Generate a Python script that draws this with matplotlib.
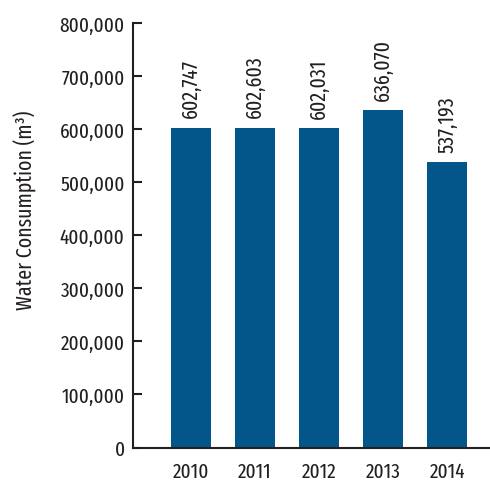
import matplotlib
matplotlib.use("Agg")
import matplotlib.pyplot as plt
from matplotlib.ticker import FuncFormatter

years = ["2010", "2011", "2012", "2013", "2014"]
consumption = [602747, 602603, 602031, 636070, 537193]
y_ticks = [0, 100000, 200000, 300000, 400000, 500000, 600000, 700000, 800000]

bar_color = "#02568a"
text_color = "#231f20"
plt.rcParams["font.family"] = ["Fira Sans Extra Condensed", "DejaVu Sans"]

fig = plt.figure(figsize=(4.9, 4.85), dpi=100)
ax = fig.add_axes([133 / 490, 1 - 448.5 / 485, 1 - 133 / 490, (448.5 - 24) / 485])

x = list(range(len(years)))
ax.bar(x, consumption, width=0.625, color=bar_color, zorder=2)

# value labels stand vertically just above each bar
for xi, v in zip(x, consumption):
    ax.annotate(f"{v:,}", (xi, v), xytext=(0, 7.5), textcoords="offset points",
                rotation=90, ha="center", va="bottom", fontsize=15.5, color=text_color)

ax.set_xlim(-0.906, 4.67)
ax.set_ylim(0, 800000)
ax.set_yticks(y_ticks)
ax.yaxis.set_major_formatter(FuncFormatter(lambda v, p: f"{int(v):,}"))
ax.set_xticks(x)
ax.set_xticklabels(years)

for s in ["top", "right"]:
    ax.spines[s].set_visible(False)
for s in ["left", "bottom"]:
    ax.spines[s].set_linewidth(1.5)
    ax.spines[s].set_color(text_color)

ax.tick_params(axis="y", direction="in", length=6.5, width=1.5, pad=6,
               labelsize=15, colors=text_color)
ax.tick_params(axis="x", length=0, pad=10, labelsize=15, colors=text_color)

fig.text(25 / 490, 1 - 210 / 485, "Water Consumption (m³)", rotation=90,
         ha="center", va="center", fontsize=15.5, color=text_color)

fig.savefig("out.png", dpi=100)
